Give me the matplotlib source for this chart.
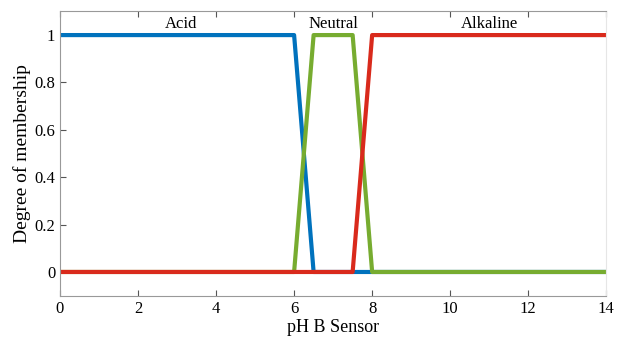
import matplotlib.pyplot as plt

plt.rcParams['font.family'] = ['Liberation Serif', 'DejaVu Serif']

# membership functions (trapezoids), pH breakpoints
acid_x = [0, 6, 6.5, 14]
acid_y = [1, 1, 0, 0]
neutral_x = [0, 6, 6.5, 7.5, 8, 14]
neutral_y = [0, 0, 1, 1, 0, 0]
alkaline_x = [0, 7.5, 8, 14]
alkaline_y = [0, 0, 1, 1]

labels = ['Acid', 'Neutral', 'Alkaline']
label_x = [3.1, 7.0, 11.0]

fig = plt.figure(figsize=(6.25, 3.45), dpi=100)
ax = fig.add_axes([0.096, 0.143, 0.874, 0.824])

ax.plot(acid_x, acid_y, color='#0072BD', lw=3)
ax.plot(neutral_x, neutral_y, color='#77AC30', lw=3)
ax.plot(alkaline_x, alkaline_y, color='#D92A1C', lw=3)

for name, x in zip(labels, label_x):
    ax.text(x, 1.045, name, ha='center', va='center', fontsize=12)

ax.set_xlim(0, 14)
ax.set_ylim(-0.1, 1.1)
ax.set_xticks(range(0, 15, 2))
ax.set_yticks([0, 0.2, 0.4, 0.6, 0.8, 1])
ax.set_yticklabels(['0', '0.2', '0.4', '0.6', '0.8', '1'])
ax.tick_params(direction='in', labelsize=12, color='#555555', top=True, length=4)
for s in ['left', 'bottom', 'top']:
    ax.spines[s].set_color('#999999')
ax.spines['right'].set_color('#e6e6e6')

ax.set_xlabel('pH B Sensor', fontsize=13, labelpad=2)
ax.set_ylabel('Degree of membership', fontsize=14, labelpad=2)

plt.savefig('out.png')
